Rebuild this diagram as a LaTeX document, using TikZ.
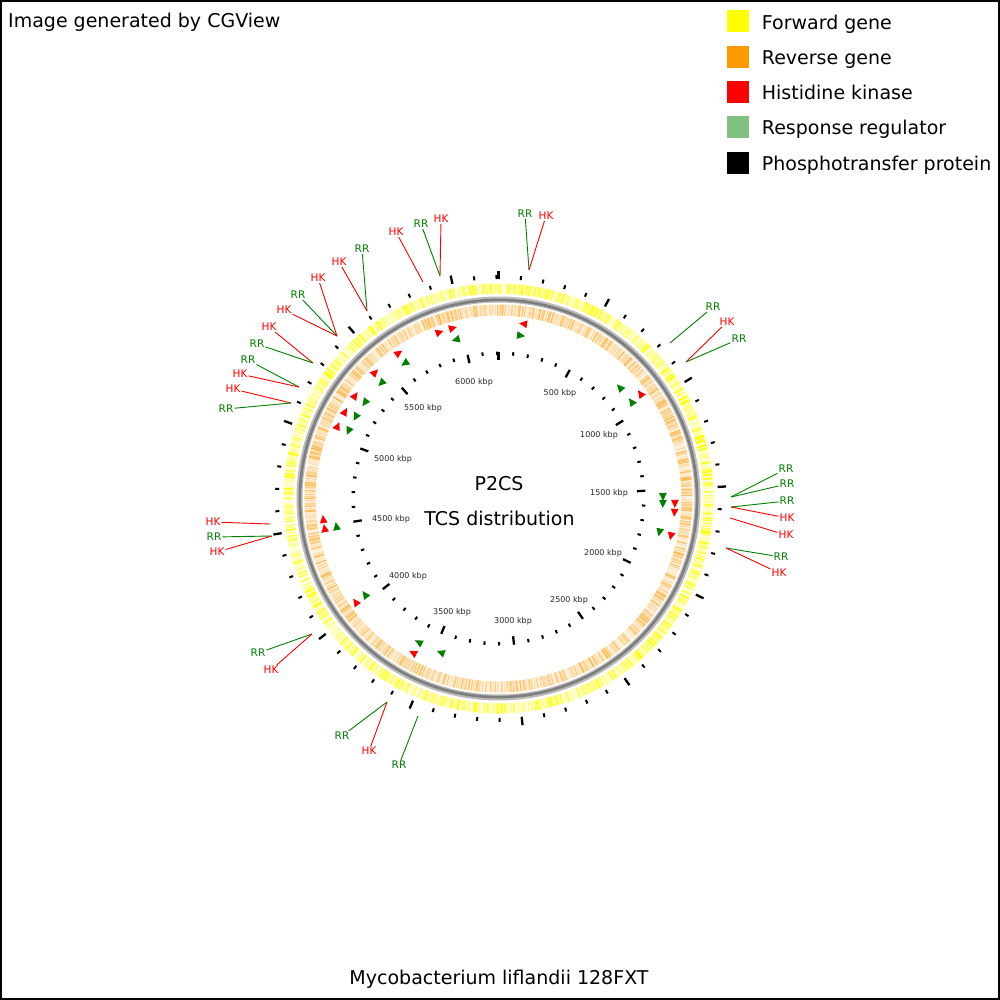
\documentclass[tikz,border=0pt]{standalone}
\usepackage{fontspec}
\setmainfont{DejaVu Sans}
\definecolor{fwd}{RGB}{255,255,0}
\definecolor{rev}{RGB}{255,153,0}
\definecolor{hk}{RGB}{255,0,0}
\definecolor{rr}{RGB}{0,128,0}
\definecolor{rrleg}{RGB}{128,192,128}
\definecolor{bbl}{RGB}{185,185,185}
\definecolor{bbd}{RGB}{125,125,125}
\begin{document}
\begin{tikzpicture}[x=1pt,y=-1pt,
  lbl/.style={font=\fontsize{10.5}{12}\selectfont, inner sep=1pt},
  kbp/.style={font=\fontsize{8}{10}\selectfont, text=black!85, inner sep=0pt},
  big/.style={font=\fontsize{19}{23}\selectfont, inner sep=0pt},
  legbox/.style={minimum size=22pt, inner sep=0pt, draw=none},
  conn/.style={line width=0.9pt}]
\useasboundingbox (0,0) rectangle (1000,1000);
\fill[white] (0,0) rectangle (1000,1000);
\draw[line width=2pt] (1,1) rectangle (999,999);

\begin{scope}[shift={(498.5,498.5)}]
  % forward gene ring
  \fill[fwd!15!white, even odd rule] (0,0) circle (215pt) circle (205pt);
  \pgfmathsetseed{12}
  \foreach \i in {0,...,899}{
    \pgfmathsetmacro\a{\i*0.4+0.4*rnd-90}
    \pgfmathsetmacro\b{\a+0.08+0.5*rnd}
    \pgfmathtruncatemacro\p{10+90*rnd}
    \fill[fwd!\p!white] (\a:205) -- (\a:215) -- (\b:215) -- (\b:205) -- cycle;
  }
  % reverse gene ring
  \fill[rev!14!white, even odd rule] (0,0) circle (194pt) circle (183pt);
  \foreach \i in {0,...,899}{
    \pgfmathsetmacro\a{\i*0.4+0.4*rnd-90}
    \pgfmathsetmacro\b{\a+0.08+0.45*rnd}
    \pgfmathtruncatemacro\p{12+60*rnd}
    \fill[rev!\p!white] (\a:183) -- (\a:194) -- (\b:194) -- (\b:183) -- cycle;
  }
  % backbone
  \draw[bbl, line width=6pt] (0,0) circle (199pt);
  \draw[bbd, line width=2.6pt] (0,0) circle (198.6pt);
  % ticks
  \foreach \k in {0,...,62}{
    \pgfmathsetmacro\th{\k*5.79804-90}
    \pgfmathtruncatemacro\m{mod(\k,5)}
    \ifnum\m=0
      \draw[line width=2.3pt] (\th:219.5) -- (\th:228);
      \draw[line width=2.3pt] (\th:147) -- (\th:138.5);
    \else
      \draw[line width=2pt] (\th:219.5) -- (\th:223.5);
      \draw[line width=2pt] (\th:147) -- (\th:143.5);
    \fi
  }
\end{scope}

% histidine kinase markers
\foreach \x/\y/\d in {523/324/-1, 440/333/1, 453/328/1, 399/353/1, 376/373/1,
  356/396/1, 346/412/1, 338/426/1, 641/393/-1, 677/504/1, 677/513/1,
  674/537/1, 323/519/1, 325/528/1, 354/603/1, 412/654/1}{
  \begin{scope}[shift={(498.5,498.5)}]
    \pgfmathsetmacro\th{atan2(\y-498.5,\x-498.5)}
    \pgfmathsetmacro\tip{\th+\d*1.3}
    \pgfmathsetmacro\bas{\th-\d*1.3}
    \fill[hk] (\tip:176.5) -- (\bas:172.6) -- (\bas:180.4) -- cycle;
  \end{scope}
}
% response regulator markers
\foreach \x/\y/\d in {521/336/1, 456/341/-1, 405/364/-1, 382/384/-1, 365/403/-1,
  357/418/-1, 348/431/-1, 620/387/-1, 632/401/-1, 665/497/1, 665/504/1,
  662/533/1, 337/526/1, 364/595/1, 418/643/1, 440/654/1}{
  \begin{scope}[shift={(498.5,498.5)}]
    \pgfmathsetmacro\th{atan2(\y-498.5,\x-498.5)}
    \pgfmathsetmacro\tip{\th+\d*1.4}
    \pgfmathsetmacro\bas{\th-\d*1.4}
    \fill[rr] (\tip:164.5) -- (\bas:160.6) -- (\bas:168.4) -- cycle;
  \end{scope}
}

% kbp labels
\foreach \t/\x/\y [count=\n] in {6000/474/382, 500/560/393, 1000/599/435,
  1500/609/493, 2000/603/553, 2500/569/600, 3000/513/621, 3500/452/612,
  4000/408/576, 4500/391/519, 5000/393/459, 5500/423/408}{
  \node[kbp] (kb\n) at (\x,\y) {\t\ kbp};
}

% feature labels and connectors
\foreach \t/\c/\lx/\ly/\ax/\ay [count=\n] in {
  RR/rr/525/214/529/270, HK/hk/546/216/529/270,
  RR/rr/421/224/440/276, HK/hk/441/219/440/276,
  HK/hk/396/232/423/282,
  RR/rr/362/249/367/311, HK/hk/339/262/367/311,
  HK/hk/318/278/337/336, RR/rr/298/295/337/336, HK/hk/284/310/337/336,
  HK/hk/269/327/313/363, RR/rr/257/344/313/363,
  RR/rr/248/360/299/387, HK/hk/240/374/299/387,
  HK/hk/233/389/291/403, RR/rr/226/409/291/403,
  RR/rr/713/307/670/343, HK/hk/727/322/686/362, RR/rr/739/339/686/362,
  RR/rr/786/469/731/497, RR/rr/787/484/731/497,
  RR/rr/787/501/731/507, HK/hk/787/518/731/507,
  HK/hk/786/535/730/518,
  RR/rr/781/557/726/548, HK/hk/779/573/726/548,
  HK/hk/213/522/270/524,
  RR/rr/214/537/272/536, HK/hk/217/552/272/536,
  RR/rr/258/653/312/634, HK/hk/271/670/312/634,
  RR/rr/342/736/387/702, HK/hk/369/751/387/702,
  RR/rr/399/765/418/716}{
  \node[lbl, text=\c] (lab\n) at (\lx,\ly) {\t};
  \coordinate (anc\n) at (\ax,\ay);
  \draw[conn, \c] (lab\n) -- (anc\n);
}

% centre titles
\node[big, anchor=base] (t1) at (499,490) {P2CS};
\node[big, anchor=base] (t2) at (499.5,525) {TCS distribution};

% header and footer
\node[big, anchor=base west] (hdr) at (8,28) {Image generated by CGView};
\node[big, anchor=base] (ftr) at (499,984) {Mycobacterium liflandii 128FXT};

% legend
\node[legbox, fill=fwd] (lg1) at (737.5,21.5) {};
\node[legbox, fill=rev] (lg2) at (737.5,57.5) {};
\node[legbox, fill=hk] (lg3) at (737.5,92.5) {};
\node[legbox, fill=rrleg] (lg4) at (737.5,127.5) {};
\node[legbox, fill=black] (lg5) at (737.5,163) {};
\node[big, anchor=base west] (lt1) at (761.7,29.3) {Forward gene};
\node[big, anchor=base west] (lt2) at (761.7,65) {Reverse gene};
\node[big, anchor=base west] (lt3) at (761.7,100) {Histidine kinase};
\node[big, anchor=base west] (lt4) at (761.7,135) {Response regulator};
\node[big, anchor=base west] (lt5) at (761.7,170.7) {Phosphotransfer protein};
\end{tikzpicture}
\end{document}
